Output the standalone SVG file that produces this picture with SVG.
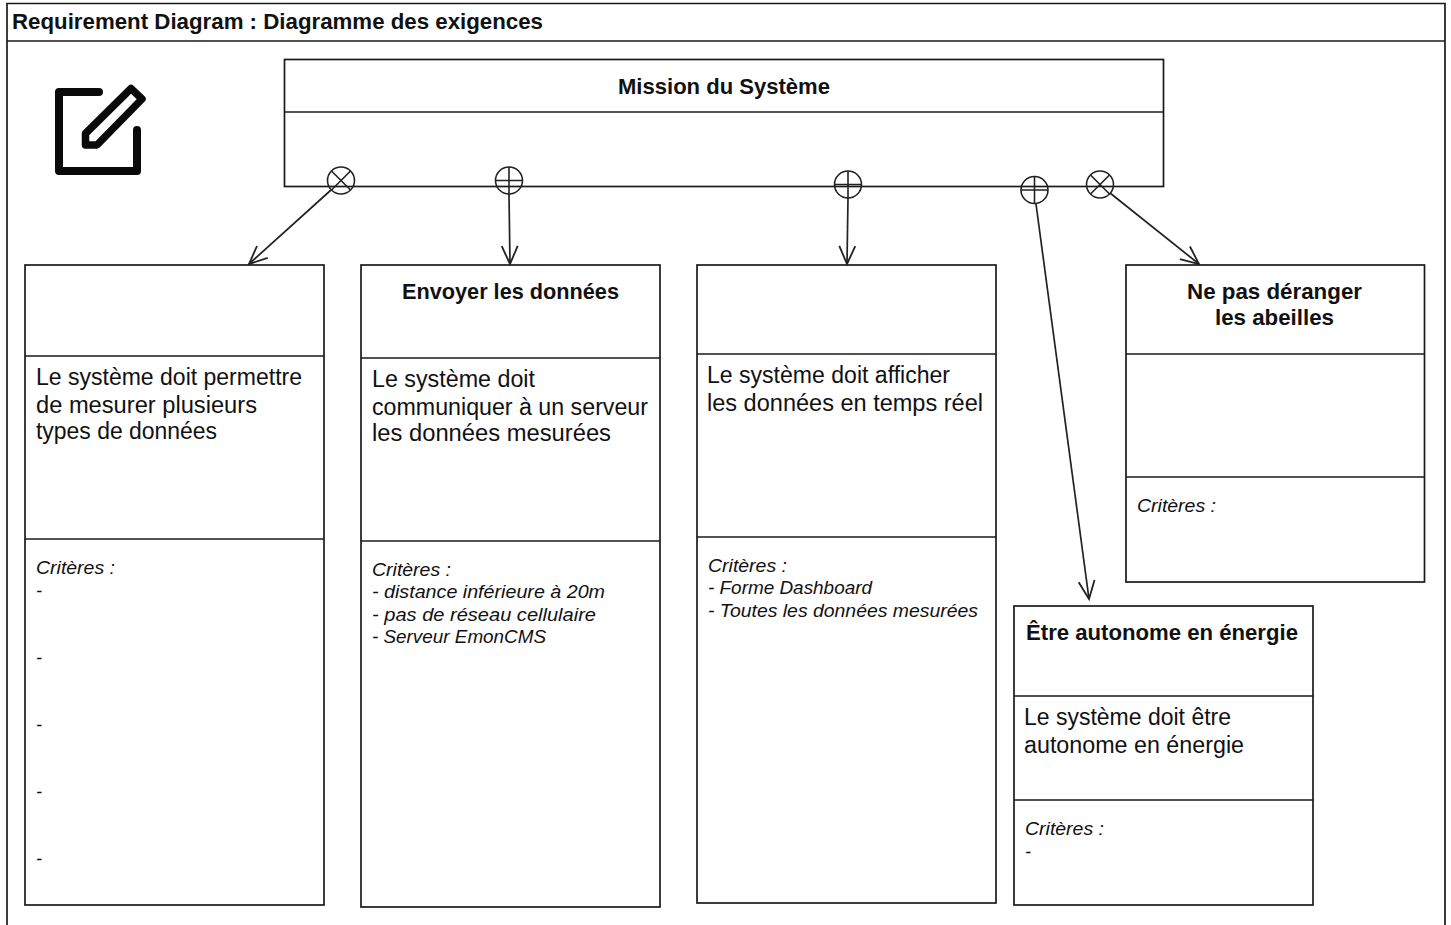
<svg xmlns="http://www.w3.org/2000/svg" width="1451" height="925" viewBox="0 0 1451 925">
<defs>
<style>
.b{fill:#fff;stroke:#1a1a1a;stroke-width:1.7}
.l{fill:none;stroke:#1a1a1a;stroke-width:1.7}
.c{fill:none;stroke:#222;stroke-width:1.7}
text{font-family:"Liberation Sans",Arial,sans-serif;fill:#111}
.t{font-size:21.5px;font-weight:bold;text-anchor:middle}
.d{font-size:23px}
.i{font-size:18px;font-style:italic}
</style>
<marker id="a" markerUnits="userSpaceOnUse" markerWidth="26" markerHeight="26" refX="22" refY="13" orient="auto"><path d="M4 5L22 13L4 21" fill="none" stroke="#222" stroke-width="1.8"/></marker>
</defs>
<g id="frame">
<path class="l" d="M7 925V3.500H1445V925"/>
<path class="l" d="M7 41H1445"/>
<text x="12" y="29" font-size="21.500" font-weight="bold" textLength="531" lengthAdjust="spacingAndGlyphs">Requirement Diagram : Diagramme des exigences</text>
</g>
<g id="icon">
<path d="M99 92H59V171H137V130" fill="none" stroke="#0a0a0a" stroke-width="8" stroke-linecap="round" stroke-linejoin="round"/>
<path d="M131 88.500L142 99L97 145H85.500V133.500Z" fill="none" stroke="#0a0a0a" stroke-width="7.500" stroke-linejoin="round"/>
</g>
<g id="mission">
<rect class="b" x="284.500" y="59.500" width="879" height="127"/>
<path class="l" d="M284.500 112H1163.500"/>
<text class="t" x="724" y="94" textLength="212" lengthAdjust="spacingAndGlyphs">Mission du Système</text>
</g>
<g id="req1">
<rect class="b" x="25" y="265" width="299" height="640"/>
<path class="l" d="M25 356H324M25 539H324"/>
<text class="d" x="36" y="385" textLength="266" lengthAdjust="spacingAndGlyphs">Le système doit permettre</text>
<text class="d" x="36" y="413" textLength="221" lengthAdjust="spacingAndGlyphs">de mesurer plusieurs</text>
<text class="d" x="36" y="439" textLength="181" lengthAdjust="spacingAndGlyphs">types de données</text>
<text class="i" x="36" y="574" textLength="79" lengthAdjust="spacingAndGlyphs">Critères :</text>
<text class="i" x="36" y="597">-</text>
<text class="i" x="36" y="664">-</text>
<text class="i" x="36" y="731">-</text>
<text class="i" x="36" y="798">-</text>
<text class="i" x="36" y="865">-</text>
</g>
<g id="req2">
<rect class="b" x="361" y="265" width="299" height="642"/>
<path class="l" d="M361 358H660M361 541H660"/>
<text class="t" x="510.500" y="299" textLength="217" lengthAdjust="spacingAndGlyphs">Envoyer les données</text>
<text class="d" x="372" y="387" textLength="163" lengthAdjust="spacingAndGlyphs">Le système doit</text>
<text class="d" x="372" y="415" textLength="276" lengthAdjust="spacingAndGlyphs">communiquer à un serveur</text>
<text class="d" x="372" y="441" textLength="239" lengthAdjust="spacingAndGlyphs">les données mesurées</text>
<text class="i" x="372" y="576" textLength="79" lengthAdjust="spacingAndGlyphs">Critères :</text>
<text class="i" x="372" y="598" textLength="233" lengthAdjust="spacingAndGlyphs">- distance inférieure à 20m</text>
<text class="i" x="372" y="621" textLength="224" lengthAdjust="spacingAndGlyphs">- pas de réseau cellulaire</text>
<text class="i" x="372" y="643" textLength="174" lengthAdjust="spacingAndGlyphs">- Serveur EmonCMS</text>
</g>
<g id="req3">
<rect class="b" x="697" y="265" width="299" height="638"/>
<path class="l" d="M697 354H996M697 537H996"/>
<text class="d" x="707" y="383" textLength="243" lengthAdjust="spacingAndGlyphs">Le système doit afficher</text>
<text class="d" x="707" y="411" textLength="276" lengthAdjust="spacingAndGlyphs">les données en temps réel</text>
<text class="i" x="708" y="572" textLength="79" lengthAdjust="spacingAndGlyphs">Critères :</text>
<text class="i" x="708" y="594" textLength="164" lengthAdjust="spacingAndGlyphs">- Forme Dashboard</text>
<text class="i" x="708" y="617" textLength="270" lengthAdjust="spacingAndGlyphs">- Toutes les données mesurées</text>
</g>
<g id="req4">
<rect class="b" x="1126" y="265" width="298.500" height="317"/>
<path class="l" d="M1126 354H1424.500M1126 477H1424.500"/>
<text class="t" x="1274.500" y="299" textLength="175" lengthAdjust="spacingAndGlyphs">Ne pas déranger</text>
<text class="t" x="1274.500" y="325" textLength="119" lengthAdjust="spacingAndGlyphs">les abeilles</text>
<text class="i" x="1137" y="512" textLength="79" lengthAdjust="spacingAndGlyphs">Critères :</text>
</g>
<g id="req5">
<rect class="b" x="1014" y="606" width="299" height="299"/>
<path class="l" d="M1014 696H1313M1014 800H1313"/>
<text class="t" x="1162" y="640" textLength="272" lengthAdjust="spacingAndGlyphs">Être autonome en énergie</text>
<text class="d" x="1024" y="725" textLength="207" lengthAdjust="spacingAndGlyphs">Le système doit être</text>
<text class="d" x="1024" y="753" textLength="220" lengthAdjust="spacingAndGlyphs">autonome en énergie</text>
<text class="i" x="1025" y="835" textLength="79" lengthAdjust="spacingAndGlyphs">Critères :</text>
<text class="i" x="1025" y="858">-</text>
</g>
<g id="connectors">
<path class="c" d="M331 190L249 264" marker-end="url(#a)"/>
<path class="c" d="M509 194L510 264" marker-end="url(#a)"/>
<path class="c" d="M848 198L847 264" marker-end="url(#a)"/>
<path class="c" d="M1036 204L1089 599" marker-end="url(#a)"/>
<path class="c" d="M1110 193L1199 264" marker-end="url(#a)"/>
<g fill="none" stroke="#222" stroke-width="1.600">
<circle cx="341" cy="180.500" r="13.500"/><path d="M331.500 171L350.500 190M350.500 171L331.500 190"/>
<circle cx="509" cy="180.500" r="13.500"/><path d="M495.500 180.500H522.500M509 167V194"/>
<circle cx="848" cy="184.500" r="13.500"/><path d="M834.500 184.500H861.500M848 171V198"/>
<circle cx="1034.500" cy="190" r="13.500"/><path d="M1021 190H1048M1034.500 176.500V203.500"/>
<circle cx="1100" cy="184.500" r="13.500"/><path d="M1090.500 175L1109.500 194M1109.500 175L1090.500 194"/>
</g>
</g>
</svg>
